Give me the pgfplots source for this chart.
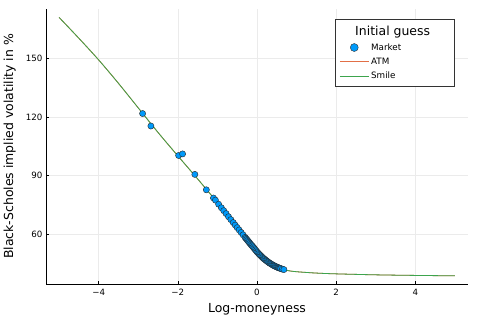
\documentclass[border=0pt]{standalone}
\usepackage{pgfplots}
\pgfplotsset{compat=1.18}
\usepackage{fontspec}
\setmainfont{DejaVu Sans}
\definecolor{jblue}{RGB}{0,154,250}
\definecolor{jorange}{RGB}{226,111,70}
\definecolor{jgreen}{RGB}{61,164,77}
\pgfplotstableread{
x y
-5 171
-4.5 160.3
-4 149.2
-3.5 137.2
-3 124.6
-2.5 112
-2 100
-1.5 88.2
-1 76
-0.5 63.2
-0.25 57
0 50.8
0.25 46
0.5 43
0.75 41.3
1 40.6
1.5 39.9
2 39.5
3 39.0
4 38.7
5 38.5
}\curve
\pgfplotstableread{
x y
-2.89 121.7
-2.68 115.3
-1.98 100.2
-1.88 101.0
-1.57 90.5
-1.28 82.6
-1.10 78.4
-1.05 77.3
-0.97 75.2
-0.90 73.4
-0.84 71.9
-0.78 70.4
-0.72 68.8
-0.66 67.3
-0.60 65.8
-0.55 64.5
-0.50 63.2
-0.45 62.0
-0.40 60.7
-0.35 59.5
-0.30 58.2
-0.28 57.7
-0.26 57.2
-0.24 56.7
-0.22 56.2
-0.20 55.7
-0.18 55.2
-0.16 54.7
-0.14 54.2
-0.12 53.8
-0.10 53.3
-0.08 52.8
-0.06 52.3
-0.04 51.8
-0.02 51.3
0.00 50.8
0.02 50.4
0.04 49.9
0.06 49.5
0.08 49.1
0.10 48.7
0.12 48.3
0.14 47.9
0.16 47.5
0.18 47.2
0.20 46.9
0.22 46.5
0.24 46.2
0.26 45.9
0.28 45.6
0.30 45.3
0.32 45.0
0.34 44.8
0.36 44.5
0.38 44.3
0.40 44.0
0.42 43.8
0.44 43.6
0.46 43.4
0.48 43.2
0.50 43.0
0.52 42.8
0.54 42.7
0.56 42.5
0.58 42.4
0.60 42.2
0.64 41.9
0.68 41.7
}\market
\begin{document}
\begin{tikzpicture}
\path[use as bounding box] (0,0) rectangle (478bp,319bp);
\begin{axis}[
  at={(46bp,35bp)}, anchor=south west,
  scale only axis, width=422bp, height=275bp,
  xmin=-5.33, xmax=5.33, ymin=34.3, ymax=175.3,
  axis x line*=bottom, axis y line*=left,
  axis line style={black, line width=0.6bp, -},
  xtick={-4,-2,0,2,4}, ytick={60,90,120,150},
  xticklabels={−4,−2,0,2,4},
  tick align=inside, major tick length=3bp,
  tick style={black, line width=0.5bp},
  grid=major, major grid style={black!8, line width=0.5bp},
  ticklabel style={font=\fontsize{8.7}{10}\selectfont},
  /pgf/number format/assume math mode=true,
  xticklabel style={yshift=-2bp},
  xlabel={Log-moneyness},
  ylabel={Black-Scholes implied volatility in \%},
  label style={font=\fontsize{12.5}{14}\selectfont},
  xlabel style={yshift=-1bp},
  ylabel style={yshift=3.5bp},
  legend style={at={(0.969,0.962)}, anchor=north east, draw=black!80, line width=0.5bp,
    font=\fontsize{8.8}{10}\selectfont, cells={anchor=west}, row sep=2.3bp,
    inner xsep=4.5bp, inner ysep=4.5bp},
]
\addlegendimage{empty legend}
\addlegendentry{\hspace*{-34bp}\makebox[111bp][c]{\fontsize{12.5}{14}\selectfont Initial guess}}
\addplot[only marks, mark=*, mark size=3.1bp, mark options={fill=jblue, draw=black!85, line width=0.4bp},
  legend image code/.code={\draw[fill=jblue, draw=black!80, line width=0.4bp] (14.5bp,0bp) circle (4bp);}] table {\market};
\addlegendentry{Market}
\addplot[jorange, line width=0.8bp, smooth, legend image code/.code={\draw[draw=jorange, line width=0.8bp] (0bp,0bp) -- (29bp,0bp);}] table {\curve};
\addlegendentry{ATM}
\addplot[jgreen, line width=0.8bp, smooth, legend image code/.code={\draw[draw=jgreen, line width=0.8bp] (0bp,0bp) -- (29bp,0bp);}] table {\curve};
\addlegendentry{Smile\rule[-6.5bp]{0pt}{4bp}}
\end{axis}
\end{tikzpicture}
\end{document}
